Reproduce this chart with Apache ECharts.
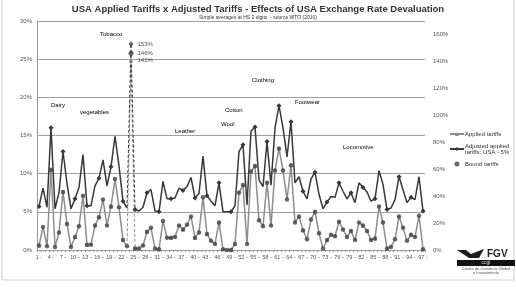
<!DOCTYPE html>
<html>
<head>
<meta charset="utf-8">
<script src="https://cdn.jsdelivr.net/npm/echarts@6/dist/echarts.min.js"></script>
<style>
  html, body { margin: 0; padding: 0; background: #fff; }
  #chart { width: 516px; height: 287px; }
</style>
</head>
<body>
<div id="chart"></div>
<script>
// HS 2-digit chapters 1..97
const chapters = Array.from({ length: 97 }, (_, i) => (i + 1) + ' -');

// left axis values (%), chapter 24 (tobacco) is drawn on the right axis
const applied = [
  0.6, 3.0, 0.5, 10.5, 0.4, 2.3, 7.6, 3.4, 0.4, 1.7,
  3.1, 7.1, 0.7, 0.7, 3.2, 4.3, 6.6, 3.2, 5.7, 9.3,
  5.6, 1.3, 0.5, null, 0.2, 0.2, 0.6, 2.4, 2.9, 0.2,
  0.1, 3.8, 1.6, 1.6, 1.7, 3.2, 2.7, 3.3, 4.4, 1.6,
  2.3, 6.9, 2.1, 1.2, 0.8, 3.6, 0.1, 0.0, 0.0, 0.8,
  7.5, 8.5, 0.8, 10.3, 11.0, 3.9, 3.1, 8.8, 3.2, 10.4,
  13.3, 10.4, 6.6, 11.1, 3.6, 4.4, 2.6, 1.4, 4.0, 5.0,
  2.2, 0.2, 1.3, 2.0, 1.8, 3.7, 2.7, 1.7, 2.5, 1.3,
  3.6, 3.2, 2.5, 1.3, 1.5, 5.7, 3.6, 0.2, 0.4, 1.4,
  4.4, 2.9, 1.2, 2.0, 1.7, 4.5, 0.1
];
const adjusted = [
  5.7, 8.1, 5.6, 16.0, 5.4, 7.5, 12.9, 8.7, 5.4, 6.7,
  8.2, 12.5, 5.8, 5.8, 8.4, 9.4, 11.8, 8.4, 10.9, 14.9,
  11.0, 6.4, 5.5, null, 5.3, 5.1, 5.6, 7.5, 7.9, 5.1,
  5.0, 9.0, 6.7, 6.7, 6.8, 8.1, 7.8, 8.3, 9.5, 6.8,
  7.4, 12.3, 7.1, 6.4, 5.8, 8.8, 5.0, 5.0, 5.0, 5.8,
  12.9, 13.8, 5.9, 15.6, 16.1, 9.2, 8.3, 14.2, 8.5, 16.0,
  18.9, 16.0, 12.2, 16.8, 8.8, 9.6, 7.7, 6.7, 9.3, 10.2,
  7.3, 5.4, 6.3, 7.0, 6.9, 8.8, 7.7, 6.7, 7.5, 6.2,
  8.8, 8.2, 7.6, 6.4, 6.7, 10.4, 8.6, 5.3, 5.5, 6.6,
  9.6, 7.9, 6.2, 6.9, 6.6, 9.6, 5.1
];
const bound = [
  0.6, 3.0, 0.5, 10.5, 0.4, 2.3, 7.6, 3.4, 0.4, 1.7,
  3.1, 7.1, 0.7, 0.7, 3.2, 4.3, 6.6, 3.2, 5.7, 9.3,
  5.6, 1.3, 0.5, null, 0.2, 0.2, 0.6, 2.4, 2.9, 0.2,
  0.1, 3.8, 1.6, 1.6, 1.7, 3.2, 2.7, 3.3, 4.4, 1.6,
  2.3, 6.9, 2.1, 1.2, 0.8, 3.6, 0.1, 0.0, 0.0, 0.8,
  7.5, 8.5, 0.8, 10.3, 11.0, 3.9, 3.1, 8.8, 3.2, 10.4,
  13.3, 10.4, 6.6, 11.1, 3.6, 4.4, 2.6, 1.4, 4.0, 5.0,
  2.2, 0.2, 1.3, 2.0, 1.8, 3.7, 2.7, 1.7, 2.5, 1.3,
  3.6, 3.2, 2.5, 1.3, 1.5, 5.7, 3.6, 0.2, 0.4, 1.4,
  4.4, 2.9, 1.2, 2.0, 1.7, 4.5, 0.1
];

// tobacco (chapter 24), right axis
const tobaccoIndex = 23;
const tobaccoApplied = 141;
const tobaccoBound = 146;
const tobaccoAdjusted = 153;

const leftMax = 30;
const rightMax = 170;

const names = {
  applied: 'Applied tariffs',
  adjusted: 'Adjusted applied tariffs: USA - 5%',
  bound: 'Bound tariffs'
};

const darkColor = '#383838';
const lightColor = '#8d8d8d';
const boundColor = '#444';

// dashed spike to tobacco: neighbours rescaled onto the right axis
function spike(values, peak) {
  const k = rightMax / leftMax;
  return chapters.map((c, i) => {
    if (i === tobaccoIndex) return peak;
    if (i === tobaccoIndex - 1 || i === tobaccoIndex + 1) return values[i] * k;
    return null;
  });
}
function onlyTobacco(v) {
  return chapters.map((c, i) => (i === tobaccoIndex ? v : null));
}

const chart = echarts.init(document.getElementById('chart'));

const smallLabel = { fontSize: 6, color: '#222', fontFamily: 'Liberation Sans' };

function peakMarker(value, symbol, color) {
  return {
    type: 'scatter',
    yAxisIndex: 1,
    data: onlyTobacco(value),
    symbol: symbol,
    symbolSize: 5,
    itemStyle: { color: color },
    label: {
      show: true, position: 'right', distance: 4,
      fontSize: 6, color: '#222',
      formatter: p => p.value + '%'
    },
    z: 5
  };
}

chart.setOption({
  animation: false,
  textStyle: { fontFamily: 'Liberation Sans' },
  title: {
    text: 'USA Applied Tariffs x Adjusted Tariffs - Effects of USA Exchange Rate Devaluation',
    subtext: 'Simple averages at HS 2 digits  - source WTO (2010)',
    left: 'center',
    top: -1,
    itemGap: 1,
    textStyle: { fontSize: 9.5, fontWeight: 'bold', color: '#333', fontFamily: 'Liberation Sans' },
    subtextStyle: { fontSize: 5, color: '#333', fontFamily: 'Liberation Sans' }
  },
  legend: {
    orient: 'vertical',
    left: 444,
    top: 126,
    itemWidth: 14,
    itemHeight: 5,
    itemGap: 6,
    data: [names.applied, names.adjusted, names.bound],
    formatter: function (n) {
      return n === names.adjusted ? 'Adjusted applied\ntariffs: USA - 5%' : n;
    },
    textStyle: { fontSize: 6, color: '#333', padding: [0, 0, 0, -4] }
  },
  grid: { left: 37, right: 91, top: 21, bottom: 37, containLabel: false },
  xAxis: {
    type: 'category',
    data: chapters,
    boundaryGap: true,
    axisLine: { lineStyle: { color: '#999', width: 1, type: [2, 2] } },
    axisTick: { show: true, interval: 0, length: 2, lineStyle: { color: '#999' } },
    axisLabel: { interval: 2, fontSize: 5.5, color: '#555', margin: 4 }
  },
  yAxis: [
    {
      type: 'value',
      min: 0,
      max: leftMax,
      interval: 5,
      axisLine: { show: true, lineStyle: { color: '#999' } },
      axisTick: { show: false },
      axisLabel: { formatter: '{value}%', fontSize: 6, color: '#555', margin: 5 },
      splitLine: { lineStyle: { color: '#a0a0a0', width: 1 } }
    },
    {
      type: 'value',
      min: 0,
      max: rightMax,
      interval: 20,
      axisLine: { show: false },
      axisTick: { show: false },
      axisLabel: { formatter: '{value}%', fontSize: 6, color: '#555', margin: 8, showMaxLabel: false },
      splitLine: { show: false }
    }
  ],
  series: [
    {
      name: names.applied,
      type: 'line',
      data: applied,
      color: lightColor,
      symbol: 'triangle',
      symbolSize: 4,
      lineStyle: { width: 1.5, color: lightColor },
      itemStyle: { color: lightColor },
      z: 2
    },
    {
      name: names.adjusted,
      type: 'line',
      data: adjusted,
      color: darkColor,
      symbol: 'diamond',
      symbolSize: 5,
      lineStyle: { width: 1.5, color: darkColor },
      itemStyle: { color: darkColor },
      z: 3
    },
    {
      name: names.bound,
      type: 'scatter',
      data: bound,
      color: boundColor,
      symbol: 'circle',
      symbolSize: 4.5,
      itemStyle: { color: boundColor },
      z: 4
    },
    {
      type: 'line',
      yAxisIndex: 1,
      data: spike(applied, tobaccoApplied),
      symbol: 'none',
      lineStyle: { width: 1, type: [3, 2], color: lightColor },
      z: 2
    },
    {
      type: 'line',
      yAxisIndex: 1,
      data: spike(adjusted, tobaccoAdjusted),
      symbol: 'none',
      lineStyle: { width: 1, type: [3, 2], color: darkColor },
      z: 3
    },
    peakMarker(tobaccoAdjusted, 'diamond', darkColor),
    peakMarker(tobaccoBound, 'circle', boundColor),
    peakMarker(tobaccoApplied, 'triangle', lightColor)
  ],
  graphic: [
    // slide frame
    { type: 'rect', shape: { x: 2, y: -2, width: 512, height: 282 },
      style: { fill: 'none', stroke: '#cfcfcf', lineWidth: 1 }, silent: true },
    // chapter annotations
    { type: 'text', x: 100, y: 31, style: { text: 'Tobacco', ...smallLabel } },
    { type: 'text', x: 51, y: 102, style: { text: 'Dairy', ...smallLabel } },
    { type: 'text', x: 80, y: 109, style: { text: 'vegetables', ...smallLabel } },
    { type: 'text', x: 175, y: 128, style: { text: 'Leather', ...smallLabel } },
    { type: 'text', x: 221, y: 121, style: { text: 'Wool', ...smallLabel } },
    { type: 'text', x: 225, y: 107, style: { text: 'Cotton', ...smallLabel } },
    { type: 'text', x: 252, y: 77, style: { text: 'Clothing', ...smallLabel } },
    { type: 'text', x: 295, y: 99, style: { text: 'Footwear', ...smallLabel } },
    { type: 'text', x: 343, y: 144, style: { text: 'Locomotive', ...smallLabel } },
    // FGV logo
    { type: 'polygon', shape: { points: [[457, 250], [466, 250], [471, 254], [484, 249], [479, 258], [469, 258]] },
      style: { fill: '#1e1e1e' } },
    { type: 'text', x: 487, y: 249, style: { text: 'FGV', fontSize: 10, fontWeight: 'bold', fill: '#1e1e1e', fontFamily: 'Liberation Sans' } },
    { type: 'rect', shape: { x: 457, y: 260, width: 58, height: 6 }, style: { fill: '#111' } },
    { type: 'text', x: 486, y: 260.5, style: { text: 'ccgi', fontSize: 5, fill: '#ddd', align: 'center', fontFamily: 'Liberation Sans' } },
    { type: 'text', x: 486, y: 267, style: { text: 'Centro de Comércio Global', fontSize: 4, fill: '#555', align: 'center', fontFamily: 'Liberation Sans' } },
    { type: 'text', x: 486, y: 271, style: { text: 'e Investimento', fontSize: 4, fill: '#555', align: 'center', fontFamily: 'Liberation Sans' } }
  ]
});
</script>
</body>
</html>
